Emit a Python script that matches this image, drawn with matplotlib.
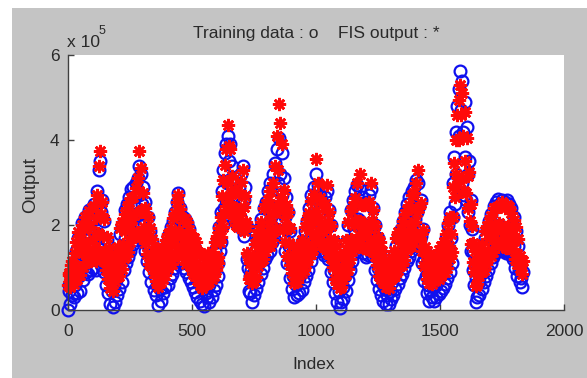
import numpy as np
import matplotlib
matplotlib.use("Agg")
import matplotlib.pyplot as plt
from matplotlib.patches import Rectangle

plt.rcParams['font.family'] = ['Liberation Sans', 'DejaVu Sans']

# values every 3rd index, in units of 1e3
# one list per seasonal cycle (trough to trough)
train_s1 = [0,60,45,15,70,35,90,75,30,110,60,140,40,120,170,80,45,160,110,205,70,180,130,220,90,200,150,85,235,120,190,95,240,160,100,250,140,215,95,280,180,120,330,350,230,105,260,170,90,210,130,60,165,95,40,130,70,15,95]
train_s2 = [45,8,90,55,20,110,70,35,140,95,50,180,120,65,200,150,95,235,170,110,250,190,125,265,205,140,285,215,155,290,225,165,300,240,175,310,270,340,200,320,250,165,290,200,140,255,175,115,220,150,90,185,115,65,160,100,48,140,80,35,120,60,12,95]
train_s3 = [50,100,22,80,120,40,100,135,55,150,110,60,175,120,75,195,140,85,210,160,100,230,175,115,255,275,190,125,240,170,110,220,160,100,215,145,90,205,135,75,190,120,65,170,110,55,150,95,42,140,80,30,120,65,22,110,55,15,100,50,10,90,40]
train_s4 = [75,30,110,60,18,100,70,30,125,85,48,140,100,60,160,110,80,195,140,230,160,280,200,330,240,370,260,390,300,410,350,250,390,300,230,340,260,215,310,240,205,300,230,200,290,220,320,250,190,340,260,175,290,200,120,195,100,45,80]
train_s5 = [40,95,20,110,70,35,140,90,50,165,110,65,190,130,85,215,150,100,240,170,120,255,185,130,280,200,140,300,220,160,320,240,170,345,260,190,380,300,210,405,320,230,370,270,175,310,220,140,265,190,110,230,150,75,185,110,50,140,80,30,105,60]
train_s6 = [85,35,120,75,40,135,90,48,160,105,65,185,125,80,210,150,95,240,170,115,270,195,135,290,215,150,320,240,165,295,220,150,270,195,140,255,185,130,265,190,135,280,200,120,235,160,90,200,130,65,160,95,40,125,70,20,95,45,5]
train_s7 = [60,20,95,55,25,120,80,45,160,110,70,200,140,95,235,165,115,260,190,135,280,205,150,295,215,160,285,210,150,265,190,135,250,180,125,255,185,130,270,195,140,285,205,130,240,160,95,200,125,70,170,100,50,140,80,35,115,60,22,95,50,15,75,35]
train_s8 = [50,15,80,45,25,105,65,35,130,85,50,150,100,62,170,115,75,190,135,85,210,150,100,230,165,115,250,180,125,265,195,140,280,205,150,290,215,160,305,230,170,300,245,165,260,175,110,190,120,68,140,80,40,110,60,22,90,45]
train_s9 = [70,30,100,55,22,95,60,30,110,70,38,115,80,45,130,85,52,150,100,62,170,115,75,200,140,90,230,170,110,300,220,360,250,420,320,480,290,520,410,563,470,300,540,420,270,490,360,260,430,320,230,350,200,260,140,190,95,140,60,110,20]
train_s10 = [75,30,110,65,35,130,85,50,150,100,65,170,115,80,190,130,95,210,150,110,225,165,125,245,180,135,255,190,140,262,200,145,250,185,138,260,195,142,255,185,135,258,190,138,250,180,130,240,170,120,220,150,100,185,115,80,150,95,65,110,75,55,90]

fis_s1 = [58,86,83,54,107,68,116,109,62,134,89,161,72,140,183,101,83,167,138,201,101,190,140,220,112,208,158,112,233,133,196,116,239,166,124,245,148,216,116,270,181,140,340,375,227,124,255,174,116,214,140,95,171,126,72,147,105,51,122]
fis_s2 = [85,45,118,85,68,127,101,77,148,122,81,192,135,97,206,156,122,225,185,127,241,198,137,255,202,161,263,214,171,265,224,171,286,228,183,310,280,375,230,335,236,175,276,195,157,241,189,131,218,167,109,192,132,103,166,124,87,148,110,69,146,88,55,124]
fis_s3 = [89,117,65,104,146,72,124,155,82,165,128,99,178,140,109,191,157,108,216,166,124,229,176,138,255,270,189,144,237,172,134,214,177,119,214,163,109,208,147,111,189,140,101,172,134,85,169,115,79,159,101,71,136,103,58,132,93,51,126,81,60,111,77]
fis_s4 = [109,62,134,89,66,119,101,73,137,114,79,161,119,93,175,125,110,194,161,220,171,268,195,305,229,341,244,380,300,435,385,255,380,275,225,315,242,216,284,239,201,280,229,195,274,214,302,236,194,330,242,185,268,208,135,198,128,74,110]
fis_s5 = [81,113,64,128,107,68,155,120,78,177,128,103,189,147,116,207,165,120,239,174,140,249,183,149,260,208,150,280,222,164,298,229,185,340,244,194,410,330,235,485,440,265,390,253,189,283,218,159,246,196,128,231,158,105,194,125,87,151,114,64,128,97]
fis_s6 = [116,66,142,101,83,146,116,87,164,130,93,196,139,108,214,156,122,229,185,131,257,202,144,274,210,169,355,233,179,300,220,159,263,193,155,249,183,149,249,200,146,295,206,133,231,167,122,197,147,101,164,122,73,150,96,62,124,74,52]
fis_s7 = [97,55,122,85,72,135,108,85,164,134,97,208,150,120,233,168,138,245,200,146,264,210,156,300,210,177,320,210,167,246,196,147,247,181,144,249,183,149,253,204,150,300,210,140,235,167,126,197,144,105,172,126,81,161,103,73,140,86,65,116,91,53,105,77]
fis_s8 = [89,51,110,77,72,123,97,77,140,114,81,169,119,94,183,129,107,190,157,107,210,167,117,227,171,142,236,186,148,246,200,151,270,201,163,276,207,173,300,231,174,330,241,168,251,179,138,189,140,103,148,110,73,138,88,63,120,74]
fis_s9 = [105,62,126,85,69,115,93,73,125,103,72,142,103,81,151,105,89,159,130,89,179,140,98,204,151,122,220,179,136,290,220,345,265,400,320,460,300,495,400,530,460,310,510,410,280,465,350,275,405,315,240,325,210,250,155,198,113,157,89,138,57]
fis_s10 = [109,62,134,93,79,142,112,89,156,126,93,185,131,108,198,140,122,206,169,127,222,179,137,239,182,157,240,194,159,243,204,155,247,185,154,253,191,159,241,196,146,247,198,147,243,182,153,228,179,144,211,165,120,196,131,108,167,113,99,128,111,84,116]

x_ticks = [0, 500, 1000, 1500, 2000]
y_ticks = [0, 2e5, 4e5, 6e5]
y_ticklabels = ['0', '2', '4', '6']

train = np.concatenate([train_s1, train_s2, train_s3, train_s4, train_s5,
                        train_s6, train_s7, train_s8, train_s9, train_s10]) * 1e3
fis = np.concatenate([fis_s1, fis_s2, fis_s3, fis_s4, fis_s5,
                      fis_s6, fis_s7, fis_s8, fis_s9, fis_s10]) * 1e3
idx_train = np.arange(len(train)) * 3
idx_fis = np.arange(len(fis)) * 3

W, H = 587, 378
fig = plt.figure(figsize=(W / 100, H / 100), dpi=100, facecolor='white')
# gray MATLAB figure background (thin white strip left/top in the screenshot)
fig.patches.append(Rectangle((12 / W, 0), 1 - 12 / W, 1 - 8 / H, transform=fig.transFigure,
                             facecolor='#c4c4c4', edgecolor='none', zorder=-10))

ax = fig.add_axes([68 / W, 1 - 310 / H, 496 / W, 255 / H])
ax.set_facecolor('white')

ax.plot(idx_train, train, ls='none', marker='o', mfc='none', mec='#1010ee',
        ms=8.5, mew=1.6, clip_on=False)
ax.plot(idx_fis, fis, ls='none', marker=(8, 2, 0), mec='#ff0a0a', mfc='#ff0a0a',
        ms=9.5, mew=1.9, clip_on=False)

ax.set_xlim(0, 2000)
ax.set_ylim(0, 6e5)
ax.set_xticks(x_ticks)
ax.set_xticklabels([str(t) for t in x_ticks])
ax.set_yticks(y_ticks)
ax.set_yticklabels(y_ticklabels)

for s in ['top', 'right']:
    ax.spines[s].set_visible(False)
for s in ['left', 'bottom']:
    ax.spines[s].set_color('#404040')
    ax.spines[s].set_linewidth(1.0)
    ax.spines[s].set_zorder(5)

ax.tick_params(direction='in', length=4, width=1.0, colors='#404040',
               labelcolor='#2a2a2a', labelsize=12.5)
ax.tick_params(axis='x', pad=10)
ax.tick_params(axis='y', pad=6)

txt = '#2a2a2a'
fig.text(316 / W, 1 - 38 / H, 'Training data : o    FIS output : *', ha='center',
         va='baseline', fontsize=12.5, color=txt)
fig.text(67 / W, 1 - 47 / H, 'x 10', ha='left', va='baseline', fontsize=12.5, color=txt)
fig.text(99 / W, 1 - 34 / H, '5', ha='left', va='baseline', fontsize=9, color=txt)
fig.text(314 / W, 1 - 369 / H, 'Index', ha='center', va='baseline', fontsize=12.5, color=txt)
fig.text(31 / W, 1 - 185 / H, 'Output', ha='center', va='center', rotation=90,
         fontsize=13.5, color=txt)

fig.savefig('out.png', dpi=100, facecolor=fig.get_facecolor())
